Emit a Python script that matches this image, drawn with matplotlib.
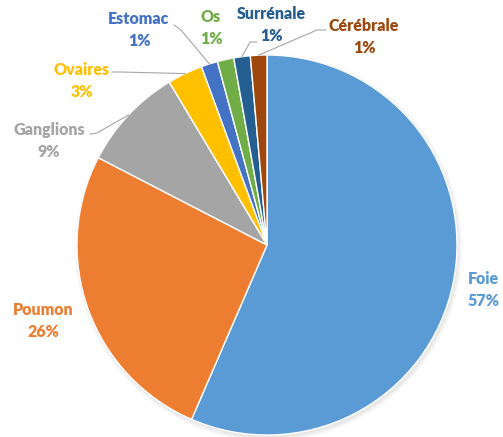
import matplotlib
matplotlib.use("Agg")
import matplotlib.pyplot as plt
import numpy as np
from matplotlib.patches import Circle

categories = ["Foie", "Poumon", "Ganglions", "Ovaires", "Estomac", "Os", "Surrénale", "Cérébrale"]
values = [56.5, 26.1, 8.8, 3.0, 1.4, 1.4, 1.4, 1.4]
pct_labels = ["57%", "26%", "9%", "3%", "1%", "1%", "1%", "1%"]
colors = ["#5B9BD5", "#ED7D31", "#A5A5A5", "#FFC000", "#4472C4", "#70AD47", "#255E91", "#9E480E"]

W, H = 503, 437
fig = plt.figure(figsize=(W / 100, H / 100), dpi=100)
ax = fig.add_axes([0, 0, 1, 1])
ax.set_xlim(0, W)
ax.set_ylim(0, H)
ax.set_aspect("equal")
ax.axis("off")

cx, cy, R = 267, H - 245, 190

# soft shadow
for i in range(8):
    ax.add_patch(Circle((cx + 1.5, cy - 2.5), R + 4 - i * 0.6, color="black",
                        alpha=0.012, lw=0, zorder=0))

wedges, _ = ax.pie(values, colors=colors, startangle=90, counterclock=False,
                   center=(cx, cy), radius=R, frame=True,
                   wedgeprops=dict(edgecolor="white", linewidth=1.0, zorder=2))
ax.set_xlim(0, W)
ax.set_ylim(0, H)
ax.axis("off")

# label block centres (pixel coords from top) and leader-line start points
label_pos = {
    "Foie": (483, 290), "Poumon": (43, 321), "Ganglions": (49, 141),
    "Ovaires": (82, 81), "Estomac": (139, 30), "Os": (211, 28),
    "Surrénale": (271, 25), "Cérébrale": (364, 37),
}
leader_start = {
    "Ganglions": [(90, 134), (97, 133)],
    "Ovaires": [(112, 72), (120, 72)],
    "Estomac": [(174, 25), (181, 30)],
    "Surrénale": [(257, 42), (250, 42)],
    "Cérébrale": [(326, 30), (317, 30)],
}

for w, cat, pct, col in zip(wedges, categories, pct_labels, colors):
    x, y = label_pos[cat]
    ax.text(x, H - y, f"{cat}\n{pct}", ha="center", va="center", color=col,
            fontsize=11.5, fontweight="heavy", family=["Lato", "DejaVu Sans"],
            linespacing=1.4, zorder=5)
    if cat in leader_start:
        mid = np.deg2rad((w.theta1 + w.theta2) / 2)
        ex, ey = cx + R * np.cos(mid), cy + R * np.sin(mid)
        pts = [(px, H - py) for px, py in leader_start[cat]] + [(ex, ey)]
        xs, ys = zip(*pts)
        ax.plot(xs, ys, color="#A6A6A6", lw=0.8, zorder=3)

fig.savefig("out.png", dpi=100)
